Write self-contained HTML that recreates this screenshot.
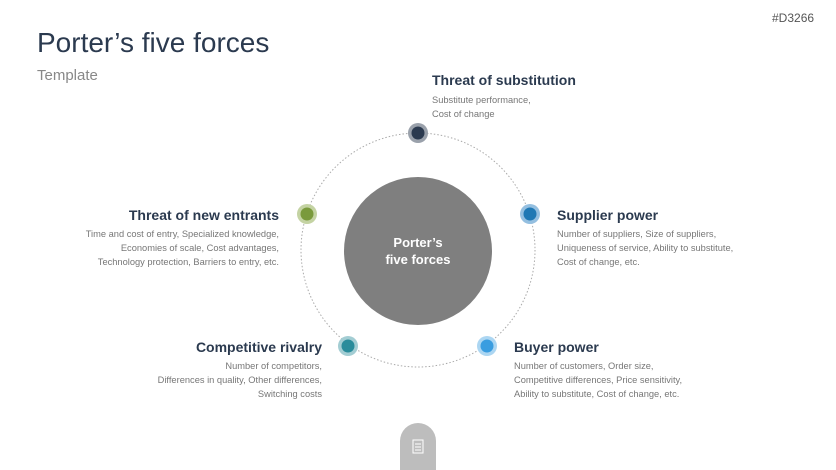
<!DOCTYPE html>
<html><head><meta charset="utf-8"><style>
body{margin:0;width:836px;height:470px;background:#fff;position:relative;overflow:hidden;font-family:"Liberation Sans",sans-serif}
.a{position:absolute}
h1{position:absolute;left:37px;top:27px;margin:0;font-weight:normal;font-size:28px;color:#2b3a4f}
.t{font-size:14px;font-weight:bold;color:#2b3a4f;white-space:nowrap}
.d{font-size:9.3px;color:#777;line-height:14px;white-space:nowrap}
.r{text-align:right}
</style></head><body>
<h1>Porter’s five forces</h1>
<div class="a" style="left:37px;top:67px;font-size:15px;color:#888">Template</div>
<div class="a" style="left:772px;top:11px;font-size:12px;color:#555">#D3266</div>
<svg class="a" style="left:0;top:0" width="836" height="470">
<circle cx="418" cy="250" r="117" fill="none" stroke="#aaa" stroke-width="1" stroke-dasharray="1.5 2"/>
<circle cx="418" cy="251" r="74" fill="#7f7f7f"/>
<text x="418" y="247" text-anchor="middle" font-size="13" font-weight="bold" fill="#fff" font-family="Liberation Sans">Porter’s</text>
<text x="418" y="264" text-anchor="middle" font-size="13" font-weight="bold" fill="#fff" font-family="Liberation Sans">five forces</text>
<circle cx="418" cy="133" r="10" fill="#9aa1ab"/><circle cx="418" cy="133" r="6.5" fill="#2b3a4f"/>
<circle cx="530" cy="214" r="10" fill="#94bfe0"/><circle cx="530" cy="214" r="6.5" fill="#1f78b4"/>
<circle cx="307" cy="214" r="10" fill="#c4d3a3"/><circle cx="307" cy="214" r="6.5" fill="#7a9a3c"/>
<circle cx="348" cy="346" r="10" fill="#a3cdd3"/><circle cx="348" cy="346" r="6.5" fill="#2a8c9b"/>
<circle cx="487" cy="346" r="10" fill="#acd6f2"/><circle cx="487" cy="346" r="6.5" fill="#3a9de0"/>
<path d="M400 470 V441 A18 18 0 0 1 436 441 V470 Z" fill="#bdbdbd"/>
<rect x="413" y="440" width="10" height="13" fill="none" stroke="#fff" stroke-width="1"/>
<line x1="415" y1="444" x2="421" y2="444" stroke="#fff"/><line x1="415" y1="447" x2="421" y2="447" stroke="#fff"/><line x1="415" y1="450" x2="421" y2="450" stroke="#fff"/>
</svg>
<div class="a t" style="left:432px;top:72px">Threat of substitution</div>
<div class="a d" style="left:432px;top:93px">Substitute performance,<br>Cost of change</div>
<div class="a t" style="left:557px;top:207px">Supplier power</div>
<div class="a d" style="left:557px;top:227px">Number of suppliers, Size of suppliers,<br>Uniqueness of service, Ability to substitute,<br>Cost of change, etc.</div>
<div class="a t r" style="right:557px;top:207px">Threat of new entrants</div>
<div class="a d r" style="right:557px;top:227px">Time and cost of entry, Specialized knowledge,<br>Economies of scale, Cost advantages,<br>Technology protection, Barriers to entry, etc.</div>
<div class="a t r" style="right:514px;top:339px">Competitive rivalry</div>
<div class="a d r" style="right:514px;top:359px">Number of competitors,<br>Differences in quality, Other differences,<br>Switching costs</div>
<div class="a t" style="left:514px;top:339px">Buyer power</div>
<div class="a d" style="left:514px;top:359px">Number of customers, Order size,<br>Competitive differences, Price sensitivity,<br>Ability to substitute, Cost of change, etc.</div>
</body></html>
